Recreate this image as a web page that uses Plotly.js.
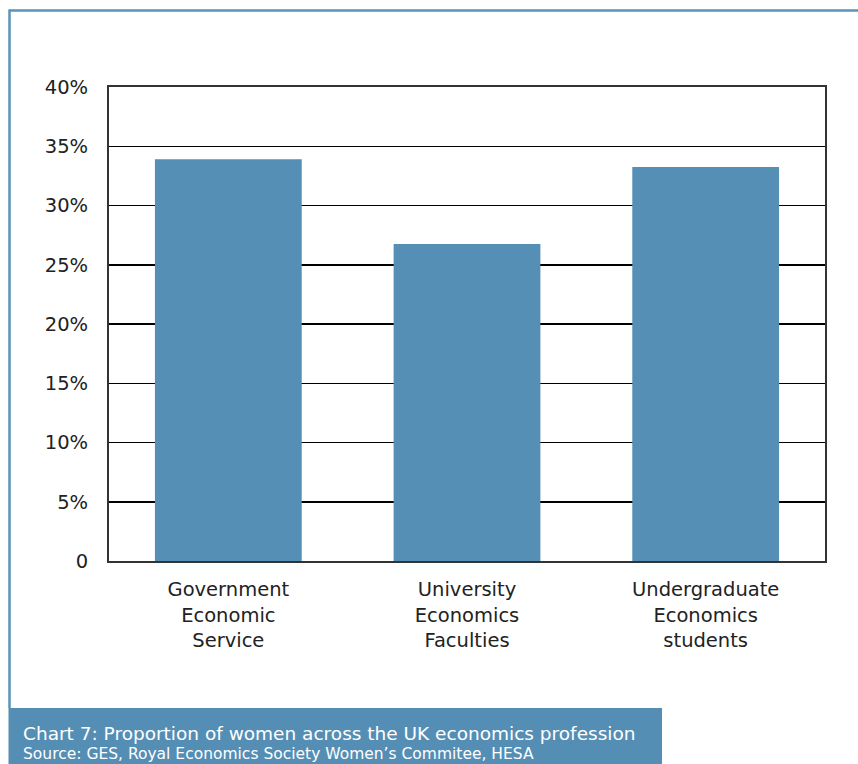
<!DOCTYPE html>
<html>
<head>
<meta charset="utf-8">
<script src="https://cdn.plot.ly/plotly-3.0.1.min.js"></script>
<style>html,body{margin:0;padding:0;background:#fff;}#chart{width:858px;height:764px;}</style>
</head>
<body>
<div id="chart"></div>
<script>
const categories = ["Government<br>Economic<br>Service", "University<br>Economics<br>Faculties", "Undergraduate<br>Economics<br>students"];
const shareWomen = [0.339, 0.2675, 0.3325];
const tickValues = [0, 0.05, 0.10, 0.15, 0.20, 0.25, 0.30, 0.35, 0.40];
const tickLabels = ["0", "5%", "10%", "15%", "20%", "25%", "30%", "35%", "40%"];
const captionTitle = "Chart 7: Proportion of women across the UK economics profession";
const captionSource = "Source: GES, Royal Economics Society Women’s Commitee, HESA";

const L = 109, R = 825, T = 87, B = 561;
const px = v => (v - L) / (R - L);
const py = v => (B - v) / (B - T);
const blue = "#558eb4";
const font = "'DejaVu Sans', sans-serif";

const data = [{
  type: "bar",
  x: categories,
  y: shareWomen,
  marker: {color: "#558fb5"},
  hoverinfo: "none"
}];

const layout = {
  width: 858, height: 764,
  margin: {l: L, r: 858 - R, t: T, b: 764 - B},
  paper_bgcolor: "#fff", plot_bgcolor: "#fff",
  bargap: 0.385,
  showlegend: false,
  font: {family: font, color: "#222", size: 19},
  xaxis: {
    showline: true, mirror: true, linecolor: "#333", linewidth: 2,
    showgrid: false, ticks: "", ticklabelstandoff: 10, tickfont: {size: 19.5, color: "#222"},
    fixedrange: true
  },
  yaxis: {
    range: [0, 0.4], tickvals: tickValues, ticktext: tickLabels,
    showline: true, mirror: true, linecolor: "#333", linewidth: 2,
    showgrid: true, gridcolor: "#000", gridwidth: 1.5, zeroline: false,
    ticks: "", ticklabelstandoff: 15, tickfont: {size: 19.5, color: "#222"},
    fixedrange: true
  },
  shapes: [
    {type: "line", xref: "paper", yref: "paper", x0: px(9), x1: px(858), y0: py(10.5), y1: py(10.5), line: {color: "#5a93b8", width: 2.5}},
    {type: "line", xref: "paper", yref: "paper", x0: px(9.5), x1: px(9.5), y0: py(9.5), y1: py(708), line: {color: "#5a93b8", width: 2.5}},
    {type: "rect", xref: "paper", yref: "paper", x0: px(8.5), x1: px(662), y0: py(708), y1: py(764), fillcolor: blue, line: {width: 0}}
  ],
  annotations: [
    {xref: "paper", yref: "paper", x: px(21), y: py(733), xanchor: "left", yanchor: "middle", showarrow: false,
     text: captionTitle, font: {family: font, size: 18.5, color: "#fff"}},
    {xref: "paper", yref: "paper", x: px(21), y: py(754), xanchor: "left", yanchor: "middle", showarrow: false,
     text: captionSource, font: {family: font, size: 15.5, color: "#fff"}}
  ]
};

Plotly.newPlot("chart", data, layout, {displayModeBar: false, staticPlot: true});
</script>
</body>
</html>
